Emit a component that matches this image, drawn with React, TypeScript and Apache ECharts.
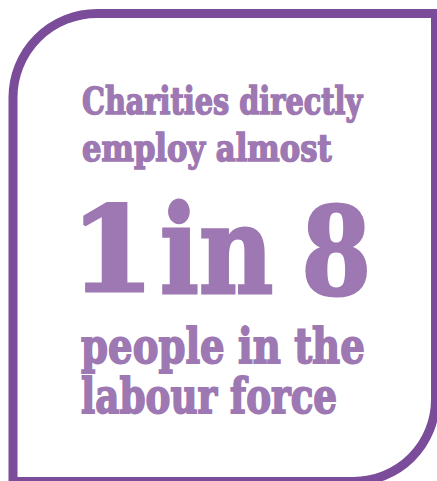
import React, { useEffect, useRef } from "react";
import * as echarts from "echarts";

// ---- content ----
const headlineLines = ["Charities directly", "employ almost"];
const statParts = ["1", "in", "8"];
const footerLines = ["people in the", "labour force"];

const TEXT_COLOR = "#9D78B2";
const BORDER_COLOR = "#7B4C9A";
const FONT_FAMILY = "DejaVu Serif";

type Box = { left: number; right: number; top: number; baseline: number; bold: number };

// layout boxes (ink extents) for each text piece
const headlineBoxes: Box[] = [
  { left: 82, right: 364, top: 82, baseline: 112, bold: 1.6 },
  { left: 82, right: 333, top: 128, baseline: 158, bold: 1.6 },
];
const statBoxes: Box[] = [
  { left: 83, right: 145, top: 192, baseline: 282, bold: 3 },
  { left: 162, right: 273, top: 188, baseline: 283, bold: 3 },
  { left: 305, right: 368, top: 191, baseline: 284, bold: 3 },
];
const footerBoxes: Box[] = [
  { left: 81, right: 364, top: 320, baseline: 359, bold: 1.8 },
  { left: 81, right: 337, top: 372, baseline: 410, bold: 1.8 },
];

function fitText(text: string, box: Box) {
  const ctx = document.createElement("canvas").getContext("2d")!;
  const ref = 100;
  const half = box.bold / 2;
  ctx.font = `bold ${ref}px "${FONT_FAMILY}"`;
  ctx.textBaseline = "alphabetic";
  const m = ctx.measureText(text);
  const asc = m.actualBoundingBoxAscent;
  const fs = (ref * (box.baseline - box.top - 2 * half)) / asc;
  ctx.font = `bold ${fs}px "${FONT_FAMILY}"`;
  ctx.textBaseline = "alphabetic";
  const m1 = ctx.measureText(text);
  ctx.textBaseline = "middle";
  const m2 = ctx.measureText(text);
  const baseOffset = m1.actualBoundingBoxAscent - m2.actualBoundingBoxAscent;
  const inkW = m1.actualBoundingBoxLeft + m1.actualBoundingBoxRight;
  const s = (box.right - box.left - 2 * half) / inkW;
  return {
    type: "text",
    x: box.left + half + m1.actualBoundingBoxLeft * s,
    y: box.baseline - half - baseOffset,
    scaleX: s,
    style: {
      text,
      x: 0,
      y: 0,
      fontSize: fs,
      fontFamily: FONT_FAMILY,
      fontWeight: "bold",
      fill: TEXT_COLOR,
      stroke: TEXT_COLOR,
      lineWidth: box.bold,
      lineJoin: "round",
      textAlign: "left",
      textVerticalAlign: "middle",
      verticalAlign: "middle",
    },
  };
}

export default function App() {
  const ref = useRef<HTMLDivElement>(null);
  useEffect(() => {
    if (!ref.current) return;
    const chart = echarts.init(ref.current, null, { renderer: "svg" });
    const texts: any[] = [];
    headlineLines.forEach((t, i) => texts.push(fitText(t, headlineBoxes[i])));
    statParts.forEach((t, i) => texts.push(fitText(t, statBoxes[i])));
    footerLines.forEach((t, i) => texts.push(fitText(t, footerBoxes[i])));
    chart.setOption({
      animation: false,
      backgroundColor: "#ffffff",
      graphic: [
        {
          type: "rect",
          shape: { x: 13, y: 13.5, width: 422.5, height: 468, r: [84, 0, 82, 0] },
          style: { fill: "none", stroke: BORDER_COLOR, lineWidth: 9 },
        },
        ...texts,
      ],
    });
    return () => chart.dispose();
  }, []);
  return (
    <div
      ref={ref}
      style={{ position: "fixed", left: 0, top: 0, width: 437, height: 481 }}
    />
  );
}
